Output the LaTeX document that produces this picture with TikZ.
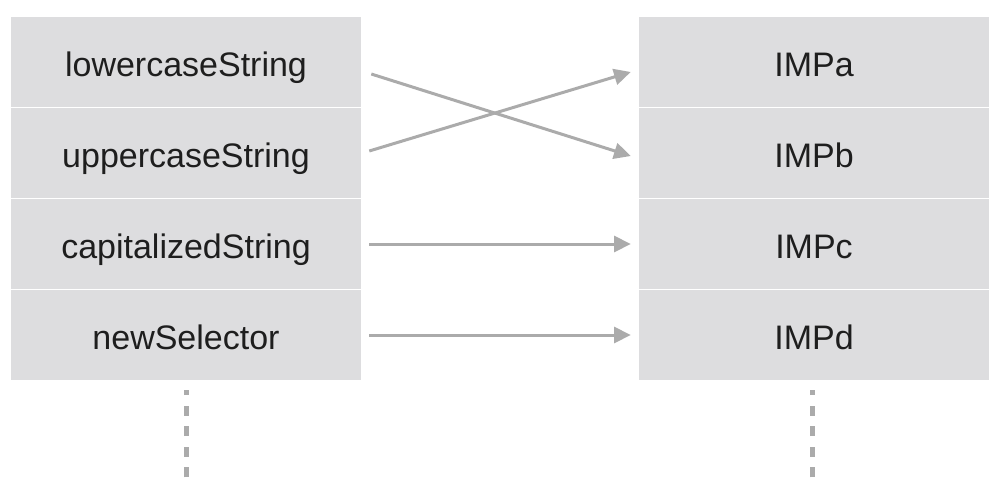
\documentclass[tikz,border=0pt]{standalone}
\usepackage{fontspec}
\setmainfont{Liberation Sans}
\usetikzlibrary{arrows.meta,positioning,calc}
\definecolor{cell}{HTML}{DDDDDF}
\definecolor{ink}{HTML}{1E1E1E}
\definecolor{wire}{HTML}{ABABAB}
\newcommand{\RowPitch}{91}
\newcommand{\TopY}{62}

\begin{document}
\begin{tikzpicture}[
    x=0.75pt, y=-0.75pt,
    font=\fontsize{25.5}{30}\selectfont, ink,
    slot/.style={fill=cell, draw=none, minimum width=262.5pt, minimum height=67.5pt, inner sep=0pt, text height=21pt, text depth=0pt},
    wireedge/.style={-{Triangle[length=12.5pt, width=12pt]}, line width=2.25pt, draw=wire},
    more/.style={draw=wire, line width=3.75pt, dash pattern=on 7.5pt off 7.9pt},
  ]
\useasboundingbox (0,0) rectangle (1000,500);

% The selector table on the left, the implementation table on the right.
\foreach \k/\sel/\imp in {1/lowercaseString/IMPa, 2/uppercaseString/IMPb,
    3/capitalizedString/IMPc, 4/newSelector/IMPd} {
  \node[slot] (sel\k) at (186, {\TopY + (\k-1)*\RowPitch}) {\sel};
  \node[slot] (imp\k) at (814, {\TopY + (\k-1)*\RowPitch}) {\imp};
}

% Swapped pair crosses over, the rest point straight across.
\draw[wireedge] ($(sel1.east)+(10,12)$) -- ($(imp2.west)+(-8,3)$);
\draw[wireedge] ($(sel2.east)+(8,-2)$) -- ($(imp1.west)+(-8,10)$);
\draw[wireedge] ($(sel3.east)+(8,0)$) -- ($(imp3.west)+(-8,0)$);
\draw[wireedge] ($(sel4.east)+(8,0)$) -- ($(imp4.west)+(-8,0)$);

% The tables go on below.
\draw[more] ($(sel4.south)+(0,97)$) -- ($(sel4.south)+(0,10)$);
\draw[more] ($(imp4.south)+(-2,97)$) -- ($(imp4.south)+(-2,10)$);

\end{tikzpicture}
\end{document}
